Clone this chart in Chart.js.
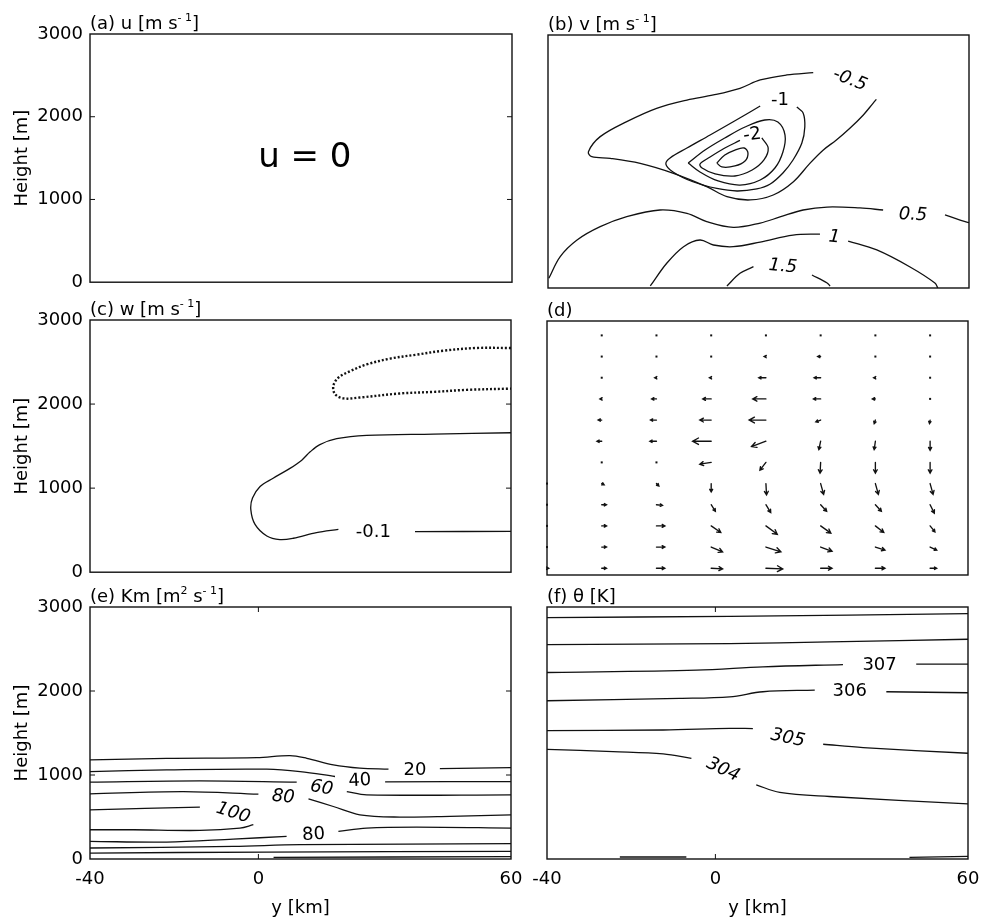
<!DOCTYPE html>
<html><head><meta charset="utf-8">
<script src="https://cdn.jsdelivr.net/npm/chart.js@4.4.1/dist/chart.umd.min.js"></script>
<style>
html,body{margin:0;padding:0;background:#fff}
#wrap{position:relative;width:984px;height:920px;overflow:hidden;background:#fff}
canvas{position:absolute;display:block}
</style></head><body><div id="wrap">
<canvas id="pa" width="530" height="300" style="left:0;top:0"></canvas>
<canvas id="pb" width="454" height="300" style="left:530px;top:0"></canvas>
<canvas id="pc" width="530" height="300" style="left:0;top:290px"></canvas>
<canvas id="pd" width="454" height="300" style="left:530px;top:290px"></canvas>
<canvas id="pe" width="530" height="342" style="left:0;top:578px"></canvas>
<canvas id="pf" width="454" height="342" style="left:530px;top:578px"></canvas>
</div>
<script>
const FONT = "'DejaVu Sans', 'Liberation Sans', sans-serif";

// ---- axes ----
const yKmTicks = [-40, 0, 60];
const heightTicks = [0, 1000, 2000, 3000];
const heightInnerTicks = [1000, 2000];
const yKmInnerTicks = [0];

// ---- (a) u ----
const aLabels = [['u = 0', 10.9, 1500]];

// ---- (b) v contours [y km, height m] ----
const vNeg05 = [[23.0,2554],[16.7,2526],[10.4,2467],[5.6,2368],[-0.7,2289],[-7.0,2229],[-14.2,2131],[-21.3,1973],[-27.6,1795],[-30.4,1617],[-29.6,1557],[-25.2,1538],[-18.1,1478],[-10.2,1360],[-2.3,1202],[2.5,1083],[8.0,1044],[13.5,1103],[18.3,1261],[22.2,1478],[25.4,1637],[28.5,1755],[31.7,1894],[34.9,2052],[37.2,2190],[38.0,2237]];
const vNeg1 = [[19.1,2146],[20.6,2075],[21.0,1909],[20.3,1719],[18.2,1518],[15.8,1364],[12.7,1230],[9.6,1175],[4.9,1150],[0.1,1180],[-5.6,1260],[-10.3,1376],[-12.0,1470],[-11.0,1542],[-7.0,1660],[-1.5,1814],[3.9,1968],[8.0,2087],[10.4,2158]];
const vNeg15 = [[-6.7,1482],[-2.7,1636],[2.0,1779],[6.8,1909],[11.5,1992],[14.6,1968],[16.3,1814],[15.8,1613],[13.9,1423],[10.4,1281],[5.6,1221],[0.4,1269],[-3.9,1376],[-6.7,1482]];
const vNeg2 = [[10.8,1779],[12.3,1660],[11.3,1518],[8.5,1399],[4.4,1328],[-0.3,1352],[-3.4,1423],[-3.9,1470],[-1.5,1553],[2.0,1660],[5.6,1750]];
const vNeg25 = [[0.1,1482],[2.0,1577],[4.4,1636],[6.6,1660],[7.5,1601],[6.8,1506],[4.4,1447],[1.3,1435],[0.1,1482]];
const vPos05a = [[-39.8,115],[-37.1,372],[-33.1,569],[-27.6,727],[-21.3,846],[-13.4,925],[-7.0,885],[-2.3,787],[4.0,719],[10.4,770],[15.1,842],[20.6,925],[26.3,960],[34.1,949],[39.6,925]];
const vPos05b = [[54.3,866],[57.9,806],[60,775]];
const vPos1a = [[-15.7,24],[-11.8,293],[-7.8,490],[-3.9,569],[-0.7,510],[4.0,490],[10.4,545],[18.2,628],[24.6,640]];
const vPos1b = [[31.3,557],[38.1,451],[46.0,249],[51.9,59],[52.6,0]];
const vPos15a = [[2.5,24],[5.6,174],[8.8,253]];
const vPos15b = [[22.7,154],[26.3,59],[27.0,24]];
const bLabels = [['-0.5',31.7,2467],['-1',15.1,2229],['-2',8.5,1814],['0.5',46.7,866],['1',28.0,600],['1.5',15.8,255]];

// ---- (c) w contours ----
const wNeg01a = [[60,1659],[41.6,1643],[25.7,1628],[18.6,1588],[14.6,1518],[12.3,1432],[10.3,1333],[7.5,1235],[3.5,1118],[0.4,1020],[-1.4,882],[-1.8,745],[-0.8,569],[2.0,431],[5.1,388],[8.3,404],[13.8,471],[19.0,510]];
const wNeg01b = [[37.2,482],[60,486]];
const wPos01 = [[60,2667],[51.8,2667],[43.9,2635],[37.6,2588],[31.3,2541],[25.7,2471],[21.8,2392],[19.0,2314],[17.8,2216],[18.2,2118],[20.2,2067],[24.1,2078],[33.6,2126],[41.6,2145],[49.5,2169],[60,2184]];
const cLabels = [['-0.1',27.3,475]];

// ---- (d) wind vectors (v, w) on grid ----
const vecColsY = [-40,-27,-14,-1,12,25,38,51];
const vecRowsH = [2830,2580,2330,2080,1830,1580,1330,1080,830,580,330,80];
const vecV = [
 [null,0,0,0,0,0,0,0],
 [null,0,0,-0.2,-0.3,-0.5,-0.2,-0.2],
 [null,-0.2,-0.3,-0.3,-1.2,-1.1,-0.3,-0.2],
 [null,-0.3,-0.8,-1.4,-2.2,-1.2,-0.5,-0.2],
 [null,-0.6,-1.0,-1.9,-2.8,-0.8,-0.2,-0.1],
 [null,-0.8,-1.1,-3.1,-2.4,-0.3,-0.2,0],
 [null,0,0,-1.9,-1.0,-0.1,0,0],
 [0,0.4,0.4,0,0.1,0.5,0.5,0.5],
 [0.2,0.8,1.0,0.7,0.8,1.0,1.0,0.7],
 [0.2,0.8,1.4,1.6,1.9,1.7,1.4,0.8],
 [0.2,0.8,1.4,1.9,2.5,1.9,1.6,1.1],
 [0.3,0.8,1.4,1.9,2.8,1.9,1.6,1.1]
];
const vecW = [
 [null,0,0,0,0,0,0,0],
 [null,0,0,0,0,0,0,0],
 [null,0,0,0,0,0,0,0],
 [null,0,0,0,0,0,0,0],
 [null,0,0,0,0,-0.3,-0.6,-0.6],
 [null,0,0,0,-0.9,-1.4,-1.4,-1.5],
 [null,0,0,-0.3,-1.3,-1.8,-1.8,-1.8],
 [0,-0.2,-0.4,-1.4,-1.9,-1.8,-1.8,-1.8],
 [0,0,-0.1,-1.1,-1.3,-1.1,-1.1,-1.4],
 [0,0,0,-1.1,-1.4,-1.2,-1.1,-1.0],
 [0,0,0,-0.8,-0.8,-0.7,-0.5,-0.5],
 [0,0,0,-0.1,-0.1,0,0,0]
];

// ---- (e) Km contours ----
const km20a = [[-40,1179],[-21.8,1199],[-0.4,1207],[7.5,1231],[11.5,1199],[17.8,1120],[24.1,1081],[30.9,1069]];
const km20b = [[43.1,1077],[60,1088]];
const km40a = [[-40,1041],[-21.8,1061],[2.0,1069],[9.9,1041],[18.2,982]];
const km40b = [[30.1,918],[60,922]];
const km60a = [[-40,914],[-13.9,930],[9.1,914]];
const km60b = [[21.0,803],[25.7,764],[60,764]];
const km80a = [[-40,776],[-17.8,803],[0,772]];
const km80b = [[11.9,716],[17.8,625],[24.1,526],[33.6,499],[45.5,507],[60,526]];
const km100a = [[-40,586],[-13.9,617]];
const km100b = [[-1.2,408],[-4.4,368],[-13.9,340],[-29.7,348],[-40,348]];
const km80c = [[-40,210],[-21.8,202],[-6.0,237],[6.7,269]];
const km80d = [[19.0,329],[25.7,368],[37.6,380],[60,368]];
const kmLow1 = [[-40,131],[-6,150],[9.9,170],[60,182]];
const kmLow2 = [[-40,71],[2,83],[60,91]];
const kmLow3 = [[3.6,20],[60,28]];
const eLabels = [['20',37.2,1061],['40',24.1,930],['60',15.0,843],['80',5.9,736],['100',-6.0,546],['80',13.1,289]];

// ---- (f) theta contours ----
const th1 = [[-40,2874],[3.4,2889],[60,2921]];
const th2 = [[-40,2553],[3.4,2565],[27.1,2585],[60,2616]];
const th307a = [[-40,2220],[-4.5,2248],[11.3,2288],[30.3,2315]];
const th307b = [[47.7,2319],[60,2319]];
const th306a = [[-40,1884],[-8.5,1912],[3.4,1931],[11.3,1991],[23.6,2011]];
const th306b = [[40.6,1991],[60,1979]];
const th305a = [[-40,1528],[-12.4,1536],[3.4,1556],[8.9,1552]];
const th305b = [[25.6,1366],[35.1,1326],[60,1259]];
const th304a = [[-40,1306],[-24.3,1278],[-12.4,1251],[-5.7,1199]];
const th304b = [[9.7,883],[15.3,792],[27.1,744],[60,657]];
const thLowA = [[-22.7,24],[-6.9,24]];
const thLowB = [[46.1,20],[60,32]];
const fLabels = [['307',39.0,2307],['306',31.9,1999],['305',17.2,1437],['304',1.8,1061]];

// ---- panel setup (layout + styles) ----
const panels = {
 pa:{title:[['(a) u [m s',0],['- 1',1],[']',0]], yLab:true, xLab:false, pad:{top:34,bottom:12,left:0,right:18}, yw:90, xh:0,
     lines:[], dotted:[], labels:aLabels, lstyle:[[0,0,34]], hIn:true, xIn:false},
 pb:{title:[['(b) v [m s',0],['- 1',1],[']',0]], yLab:false, xLab:false, pad:{top:35,bottom:12,left:0,right:15}, yw:18, xh:0,
     lines:[vNeg05,vNeg1,vNeg15,vNeg2,vNeg25,vPos05a,vPos05b,vPos1a,vPos1b,vPos15a,vPos15b], dotted:[], labels:bLabels,
     lstyle:[[22,1,18],[0,0,18],[-8,0,18],[3,1,18],[5,1,18],[5,1,18]], hIn:false, xIn:false},
 pc:{title:[['(c) w [m s',0],['- 1',1],[']',0]], yLab:true, xLab:false, pad:{top:30,bottom:15,left:0,right:19}, yw:90, xh:0,
     lines:[wNeg01a,wNeg01b], dotted:[wPos01], labels:cLabels, lstyle:[[0,0,18]], hIn:true, xIn:false},
 pd:{title:[['(d)',0]], yLab:false, xLab:false, pad:{top:31,bottom:15,left:0,right:16}, yw:17, xh:0,
     lines:[], dotted:[], labels:[], lstyle:[], hIn:false, xIn:false, vectors:true},
 pe:{title:[['(e) Km [m',0],['2',1],[' s',0],['- 1',1],[']',0]], yLab:true, xLab:true, pad:{top:29,bottom:0,left:0,right:19}, yw:90, xh:61,
     lines:[km20a,km20b,km40a,km40b,km60a,km60b,km80a,km80b,km100a,km100b,km80c,km80d,kmLow1,kmLow2,kmLow3], dotted:[], labels:eLabels,
     lstyle:[[0,0,18],[-3,0,18],[10,1,18],[5,1,18],[18,1,18],[-4,0,18]], hIn:true, xIn:true},
 pf:{title:[['(f) θ [K]',0]], yLab:false, xLab:true, pad:{top:29,bottom:0,left:0,right:16}, yw:17, xh:61,
     lines:[th1,th2,th307a,th307b,th306a,th306b,th305a,th305b,th304a,th304b,thLowA,thLowB], dotted:[], labels:fLabels,
     lstyle:[[0,0,18],[0,0,18],[12,1,18],[25,1,18]], hIn:false, xIn:true}
};

const decor = {
  id:'decor',
  afterDatasetsDraw(chart){
    const def = panels[chart.canvas.id];
    const {ctx, chartArea:ca, scales:{x, y}} = chart;
    ctx.save();
    ctx.strokeStyle = '#111'; ctx.fillStyle = '#111';
    ctx.lineCap = 'round';
    // vectors
    if (def.vectors){
      const di = chart.data.datasets.length - 1;
      const meta = chart.getDatasetMeta(di);
      const raw = chart.data.datasets[di].data;
      const S = 6;
      meta.data.forEach((pt, i) => {
        const dx = raw[i].v * S, dy = -raw[i].w * S;
        const L = Math.hypot(dx, dy);
        if (L < 1.6){ ctx.fillRect(pt.x - 1, pt.y - 1, 2, 2); return; }
        const ex = pt.x + dx, ey = pt.y + dy;
        const a = Math.atan2(dy, dx), hl = Math.max(2.5, 0.36 * L), sp = 0.5;
        ctx.lineWidth = 1.35;
        ctx.beginPath();
        ctx.moveTo(pt.x, pt.y); ctx.lineTo(ex, ey);
        ctx.moveTo(ex - hl * Math.cos(a - sp), ey - hl * Math.sin(a - sp));
        ctx.lineTo(ex, ey);
        ctx.lineTo(ex - hl * Math.cos(a + sp), ey - hl * Math.sin(a + sp));
        ctx.stroke();
      });
    }
    ctx.lineCap = 'butt';
    // frame
    ctx.lineWidth = 1.4;
    ctx.strokeRect(ca.left, ca.top, ca.right - ca.left, ca.bottom - ca.top);
    // inner ticks
    ctx.lineWidth = 1;
    ctx.beginPath();
    if (def.hIn) heightInnerTicks.forEach(v => {
      const py = y.getPixelForValue(v);
      ctx.moveTo(ca.left, py); ctx.lineTo(ca.left + 5, py);
      ctx.moveTo(ca.right, py); ctx.lineTo(ca.right - 5, py);
    });
    if (def.xIn) yKmInnerTicks.forEach(v => {
      const px = x.getPixelForValue(v);
      ctx.moveTo(px, ca.bottom); ctx.lineTo(px, ca.bottom - 5);
      ctx.moveTo(px, ca.top); ctx.lineTo(px, ca.top + 5);
    });
    ctx.stroke();
    // contour labels
    ctx.fillStyle = '#000';
    ctx.textAlign = 'center'; ctx.textBaseline = 'middle';
    def.labels.forEach((l, i) => {
      const st = def.lstyle[i] || [0,0,18];
      ctx.save();
      ctx.translate(x.getPixelForValue(l[1]), y.getPixelForValue(l[2]));
      ctx.rotate(st[0] * Math.PI / 180);
      ctx.font = (st[1] ? 'italic ' : '') + st[2] + 'px ' + FONT;
      ctx.fillText(l[0], 0, 0);
      ctx.restore();
    });
    // panel title
    ctx.textAlign = 'left'; ctx.textBaseline = 'alphabetic';
    let tx = ca.left; const ty = ca.top - 5;
    def.title.forEach(([t, sup]) => {
      ctx.font = (sup ? '11px ' : '18px ') + FONT;
      ctx.fillText(t, tx, sup ? ty - 8 : ty);
      tx += ctx.measureText(t).width;
    });
    ctx.restore();
  }
};

function toXY(arr){ return arr.map(p => ({x:p[0], y:p[1]})); }
function lineDS(arr, dotted){
  return {data:toXY(arr), showLine:true, pointRadius:0, borderColor:'#111',
          borderWidth: dotted ? 2.4 : 1.3, borderDash: dotted ? [2,2] : [],
          tension:0.35, fill:false};
}

Object.keys(panels).forEach(id => {
  const def = panels[id];
  const datasets = def.lines.map(l => lineDS(l, false)).concat(def.dotted.map(l => lineDS(l, true)));
  if (def.vectors){
    const pts = [];
    vecRowsH.forEach((h, r) => vecColsY.forEach((c, k) => {
      if (vecV[r][k] !== null) pts.push({x:c, y:h, v:vecV[r][k], w:vecW[r][k]});
    }));
    datasets.push({data:pts, showLine:false, pointRadius:0});
  }
  new Chart(document.getElementById(id), {
    type:'scatter',
    data:{datasets},
    options:{
      responsive:false, animation:false, events:[],
      layout:{padding:def.pad},
      plugins:{legend:{display:false}, tooltip:{enabled:false}},
      scales:{
        x:{type:'linear', min:-40, max:60, position:'bottom',
           afterBuildTicks: s => { s.ticks = yKmTicks.map(v => ({value:v})); },
           afterFit: s => { s.height = def.xh; },
           ticks:{display:def.xLab, autoSkip:false, maxRotation:0, padding:0, color:'#000',
                  font:{family:FONT, size:18, lineHeight:2.3}, callback: v => String(v)},
           grid:{display:false, drawTicks:false}, border:{display:false},
           title:{display:def.xLab, text:'y [km]', color:'#000', font:{family:FONT, size:18}, padding:{top:0, bottom:1}}},
        y:{type:'linear', min:0, max:3000, position:'left',
           afterBuildTicks: s => { s.ticks = heightTicks.map(v => ({value:v})); },
           afterFit: s => { s.width = def.yw; },
           ticks:{display:def.yLab, autoSkip:false, padding:7, color:'#000',
                  font:{family:FONT, size:18}, callback: v => String(v)},
           grid:{display:false, drawTicks:false}, border:{display:false},
           title:{display:def.yLab, text:'Height [m]', color:'#000', font:{family:FONT, size:18}, padding:{top:12, bottom:0}}}
      }
    },
    plugins:[decor]
  });
});
</script>
</body></html>
